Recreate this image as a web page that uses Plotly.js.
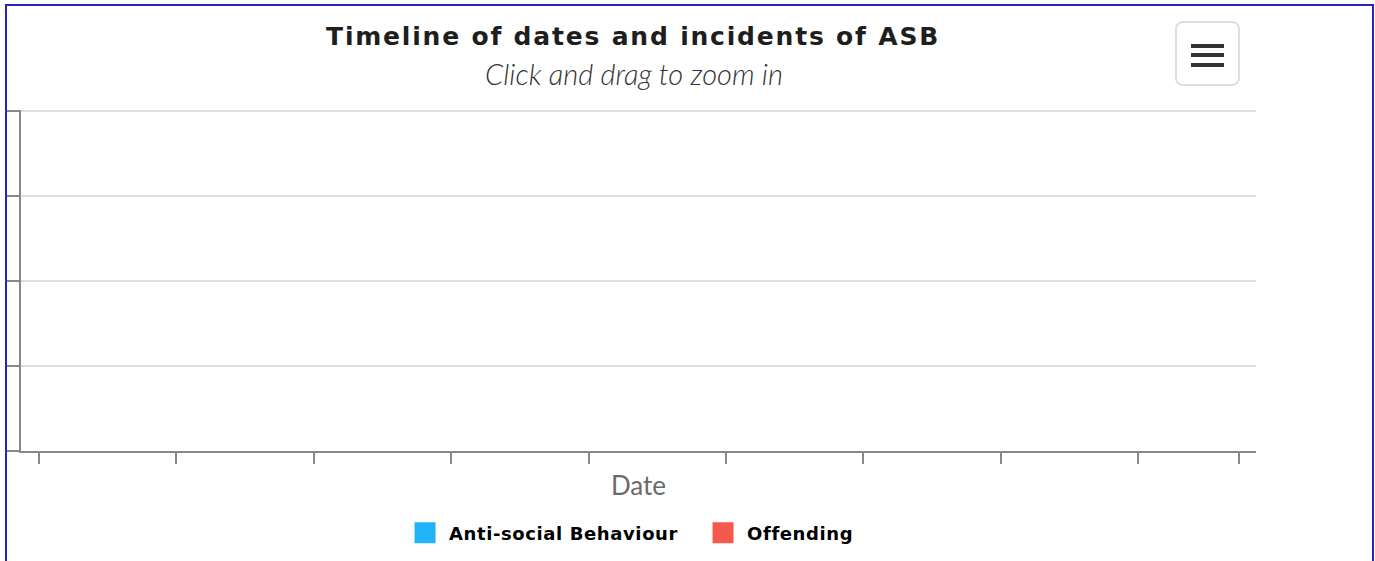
<!DOCTYPE html>
<html>
<head>
<meta charset="utf-8">
<script src="https://cdn.plot.ly/plotly-3.0.1.min.js"></script>
<style>
  html, body { margin: 0; padding: 0; background: #fff; }
  #chart { position: absolute; left: 0; top: 0; width: 1375px; height: 561px; }
  #frame { position: absolute; left: 5px; top: 4px; width: 1369px; height: 620px;
           border: 2px solid #2323c8; box-sizing: border-box; pointer-events: none; }
  #menu { position: absolute; left: 1175px; top: 21px; width: 65px; height: 65px;
          border: 2px solid #dedede; border-radius: 8px; box-sizing: border-box; background: #fff; }
  .bar { position: absolute; left: 14px; width: 33px; height: 4px; background: #333; }
  .gtitle { letter-spacing: 1.8px; }
  .legendtext { letter-spacing: 0.6px; }
</style>
</head>
<body>
<div id="chart"></div>
<div id="frame"></div>
<div id="menu"><div class="bar" style="top:21px"></div><div class="bar" style="top:30px"></div><div class="bar" style="top:40px"></div></div>
<script>
// Data: the chart has no incidents plotted (empty series)
const seriesNames = ["Anti-social Behaviour", "Offending"];
const seriesColors = ["#21b3f5", "#f5584d"];
const asbDates = [];
const asbCounts = [];
const offendingDates = [];
const offendingCounts = [];
const xTickPositions = [0, 1, 2, 3, 4, 5, 6, 7, 8, 8.735];
const xTickLabels = ["", "", "", "", "", "", "", "", "", ""];
const xRange = [-0.131, 8.858];
const yRange = [0, 4.015];
const yTickStep = 1;

// an empty series still needs one blank point so that the legend lists it
function orBlank(arr) { return arr.length ? arr : [null]; }

const traces = [
  { type: "scatter", mode: "markers", name: seriesNames[0], x: orBlank(asbDates), y: orBlank(asbCounts),
    marker: { color: seriesColors[0], symbol: "square", size: 16, line: { color: seriesColors[0], width: 5 } } },
  { type: "scatter", mode: "markers", name: seriesNames[1], x: orBlank(offendingDates), y: orBlank(offendingCounts),
    marker: { color: seriesColors[1], symbol: "square", size: 16, line: { color: seriesColors[1], width: 5 } } }
];

const layout = {
  width: 1375, height: 561,
  margin: { l: 21, r: 119, t: 110, b: 110, pad: 0 },
  paper_bgcolor: "#fff", plot_bgcolor: "#fff",
  title: {
    text: "Timeline of dates and incidents of ASB",
    font: { family: "DejaVu Sans", size: 25, weight: 700, color: "#1e1e1e" },
    x: 0.4604, xref: "container", xanchor: "center",
    y: 0.935, yref: "container", yanchor: "middle"
  },
  annotations: [{
    text: "Click and drag to zoom in", showarrow: false,
    xref: "paper", yref: "paper", x: 0.4964, y: 1.1059, xanchor: "center", yanchor: "middle",
    font: { family: "Lato", size: 29, style: "italic", weight: 300, color: "#333" }
  }],
  showlegend: true,
  legend: {
    orientation: "h", x: 0.5084, xref: "container", xanchor: "center",
    y: 0.05, yref: "container", yanchor: "middle",
    itemwidth: 38, entrywidth: 245, entrywidthmode: "pixels",
    font: { family: "DejaVu Sans", size: 18, weight: 700, color: "#000" },
    itemclick: false, itemdoubleclick: false
  },
  xaxis: {
    range: xRange, tickvals: xTickPositions, ticktext: xTickLabels, showticklabels: false,
    ticks: "outside", ticklen: 11, tickwidth: 2, tickcolor: "#888",
    showline: true, linecolor: "#888", linewidth: 2, showgrid: false, zeroline: false,
    title: { text: "Date", font: { family: "Lato", size: 26, color: "#6a6a6a" }, standoff: 14 }
  },
  yaxis: {
    range: yRange, dtick: yTickStep, tick0: 0, showticklabels: false,
    ticks: "outside", ticklen: 13, tickwidth: 2, tickcolor: "#888",
    showline: true, linecolor: "#888", linewidth: 2,
    showgrid: true, gridcolor: "#dedede", gridwidth: 1.5, zeroline: false
  }
};

Plotly.newPlot("chart", traces, layout, { displayModeBar: false });
</script>
</body>
</html>
